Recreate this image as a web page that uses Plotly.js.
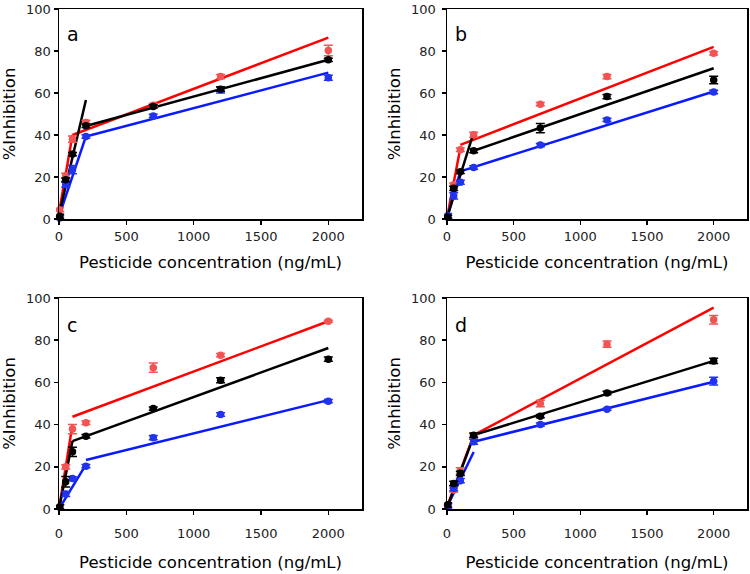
<!DOCTYPE html>
<html>
<head>
<meta charset="utf-8">
<script src="https://cdn.plot.ly/plotly-3.0.1.min.js"></script>
<style>html,body{margin:0;padding:0;background:#fff}#chart{width:750px;height:574px}</style>
</head>
<body>
<div id="chart"></div>
<script>
// Concentrations (ng/mL)
const conc = [5, 50, 100, 200, 700, 1200, 2000];
const panelLabels = ["a", "b", "c", "d"];
const xTicks = [0, 500, 1000, 1500, 2000];
const yTicks = [0, 20, 40, 60, 80, 100];

// Panel a
const aRed   = [4.4, 20.6, 38, 46, 54.2, 67.8, 80.2];
const aBlack = [1.3, 18.7, 30.9, 44.4, 53.6, 61.8, 75.8];
const aBlue  = [0.5, 16.3, 23.5, 39.3, 49.1, 61.5, 67.3];
const aRedErr   = [1, 1.2, 1.5, 1, 0.8, 1, 2.5];
const aBlackErr = [1, 0.8, 0.8, 0.8, 0.8, 1, 0.8];
const aBlueErr  = [1, 1.2, 2, 0.8, 0.8, 1.5, 1.2];
// Panel b
const bRed   = [1, 16.3, 33, 40.1, 54.7, 67.8, 78.9];
const bBlack = [1, 14.6, 22.5, 32.5, 43.3, 58.3, 66.2];
const bBlue  = [1.6, 11, 17.5, 24.5, 35.2, 47.2, 60.5];
const bRedErr   = [0.8, 0.8, 0.8, 1.2, 0.8, 1, 0.8];
const bBlackErr = [0.8, 1, 0.8, 1, 2.2, 1, 1.8];
const bBlueErr  = [1, 1.5, 1, 0.8, 0.8, 0.8, 0.8];
// Panel c
const cRed   = [1, 20, 37.9, 40.9, 67, 72.9, 89];
const cBlack = [1, 12.9, 27.1, 34.5, 47.6, 61, 71];
const cBlue  = [1, 7.1, 14.5, 20.3, 33.8, 44.8, 51.1];
const cRedErr   = [1, 1, 2.2, 0.8, 2.2, 0.8, 0.5];
const cBlackErr = [1, 2.5, 2.2, 0.8, 0.8, 1.2, 1];
const cBlueErr  = [1, 1.2, 0.8, 0.8, 1, 0.8, 0.8];
// Panel d
const dRed   = [1.6, 9, 18, 34.7, 50, 78.1, 89.7];
const dBlack = [2, 12.1, 16.9, 35, 44, 55, 70.2];
const dBlue  = [1.5, 9.8, 13.4, 31.9, 40, 47.3, 60.6];
const dRedErr   = [1, 1, 1.5, 1, 1.5, 1.5, 2];
const dBlackErr = [1, 1, 1, 1, 0.8, 0.8, 1.2];
const dBlueErr  = [1, 1.2, 1, 1.2, 0.8, 0.5, 1.8];

// Fitted segments: [x0, x1] and [y0, y1] for low and high concentration ranges
const aRedLoX = [0, 100],  aRedLoY = [3, 40],    aRedHiX = [100, 2000], aRedHiY = [40, 86.4];
const aBlackLoX = [0, 200], aBlackLoY = [2, 56.7], aBlackHiX = [200, 2000], aBlackHiY = [44.3, 75.8];
const aBlueLoX = [0, 200], aBlueLoY = [1.3, 39.3], aBlueHiX = [200, 2000], aBlueHiY = [39.3, 69.7];

const bRedLoX = [0, 100],  bRedLoY = [0.5, 33.8], bRedHiX = [100, 2000], bRedHiY = [35.3, 82];
const bBlackLoX = [0, 200], bBlackLoY = [0.5, 41.2], bBlackHiX = [200, 2000], bBlackHiY = [32.5, 71.8];
const bBlueLoX = [0, 100], bBlueLoY = [0.5, 22.7], bBlueHiX = [100, 2000], bBlueHiY = [22.7, 60.7];

const cRedLoX = [0, 100],  cRedLoY = [0, 40],     cRedHiX = [100, 2000], cRedHiY = [43.7, 89];
const cBlackLoX = [0, 100], cBlackLoY = [0, 32.2], cBlackHiX = [100, 2000], cBlackHiY = [32.2, 76.3];
const cBlueLoX = [0, 200], cBlueLoY = [0, 21],    cBlueHiX = [200, 2000], cBlueHiY = [23.2, 51.6];

const dRedLoX = [0, 200],  dRedLoY = [1, 35],     dRedHiX = [200, 2000], dRedHiY = [35, 95.4];
const dBlackLoX = [0, 200], dBlackLoY = [0.5, 34.5], dBlackHiX = [200, 2000], dBlackHiY = [35, 70.2];
const dBlueLoX = [0, 200], dBlueLoY = [1, 27],    dBlueHiX = [200, 2000], dBlueHiY = [31.9, 60.3];

const RED = "#ff0000", REDM = "#f25454", BLACK = "#000000", BLUE = "#0a1aff", BLUEM = "#2233ee";

const panels = [
  {pts: [[aRed, aRedErr, RED, REDM], [aBlue, aBlueErr, BLUE, BLUEM], [aBlack, aBlackErr, BLACK, BLACK]],
   fits: [[aRedLoX, aRedLoY, RED], [aRedHiX, aRedHiY, RED], [aBlueLoX, aBlueLoY, BLUE], [aBlueHiX, aBlueHiY, BLUE], [aBlackLoX, aBlackLoY, BLACK], [aBlackHiX, aBlackHiY, BLACK]]},
  {pts: [[bRed, bRedErr, RED, REDM], [bBlue, bBlueErr, BLUE, BLUEM], [bBlack, bBlackErr, BLACK, BLACK]],
   fits: [[bRedLoX, bRedLoY, RED], [bRedHiX, bRedHiY, RED], [bBlueLoX, bBlueLoY, BLUE], [bBlueHiX, bBlueHiY, BLUE], [bBlackLoX, bBlackLoY, BLACK], [bBlackHiX, bBlackHiY, BLACK]]},
  {pts: [[cRed, cRedErr, RED, REDM], [cBlue, cBlueErr, BLUE, BLUEM], [cBlack, cBlackErr, BLACK, BLACK]],
   fits: [[cRedLoX, cRedLoY, RED], [cRedHiX, cRedHiY, RED], [cBlueLoX, cBlueLoY, BLUE], [cBlueHiX, cBlueHiY, BLUE], [cBlackLoX, cBlackLoY, BLACK], [cBlackHiX, cBlackHiY, BLACK]]},
  {pts: [[dRed, dRedErr, RED, REDM], [dBlue, dBlueErr, BLUE, BLUEM], [dBlack, dBlackErr, BLACK, BLACK]],
   fits: [[dRedLoX, dRedLoY, RED], [dRedHiX, dRedHiY, RED], [dBlueLoX, dBlueLoY, BLUE], [dBlueHiX, dBlueHiY, BLUE], [dBlackLoX, dBlackLoY, BLACK], [dBlackHiX, dBlackHiY, BLACK]]}
];

const W = 750, H = 574;
const xDom = [[59 / W, 362 / W], [447 / W, 747 / W], [59 / W, 362 / W], [447 / W, 747 / W]];
const yDom = [[(H - 219) / H, (H - 9) / H], [(H - 219) / H, (H - 9) / H], [(H - 509) / H, (H - 298) / H], [(H - 509) / H, (H - 298) / H]];
const labelY = [0.88, 0.88, 0.87, 0.87];

const FONT = "DejaVu Sans, Verdana, sans-serif";
const traces = [];
const layout = {
  width: W, height: H, showlegend: false,
  margin: {l: 0, r: 0, t: 0, b: 0},
  paper_bgcolor: "#fff", plot_bgcolor: "#fff",
  font: {family: FONT, color: "#000"},
  annotations: []
};

panels.forEach((p, i) => {
  const n = i + 1;
  const xa = n === 1 ? "x" : "x" + n, ya = n === 1 ? "y" : "y" + n;
  p.fits.forEach(f => {
    traces.push({x: f[0], y: f[1], xaxis: xa, yaxis: ya, type: "scatter", mode: "lines",
      line: {color: f[2], width: 2.5}, hoverinfo: "skip", cliponaxis: false});
  });
  p.pts.forEach(s => {
    traces.push({x: conc, y: s[0], xaxis: xa, yaxis: ya, type: "scatter", mode: "markers",
      marker: {color: s[3], size: 7.5}, cliponaxis: false,
      error_y: {type: "data", array: s[1], visible: true, color: s[3], thickness: 1.5, width: 4.5}});
  });
  const lower = i >= 2;
  layout["xaxis" + (n === 1 ? "" : n)] = {
    domain: xDom[i], anchor: ya, range: [0, 2250], tickvals: xTicks, ticktext: xTicks.map(String),
    showgrid: false, zeroline: false, showline: true, linecolor: "#000", linewidth: 1.5, mirror: true,
    ticks: "outside", ticklen: 4, tickwidth: 1.5, tickcolor: "#000",
    ticklabelstandoff: lower ? 8 : 1,
    tickfont: {size: 13, color: "#222", family: FONT},
    title: {text: "Pesticide concentration (ng/mL)", font: {size: 16.5, color: "#000", family: FONT}, standoff: lower ? 16 : 13}
  };
  layout["yaxis" + (n === 1 ? "" : n)] = {
    domain: yDom[i], anchor: xa, range: [0, 100], tickvals: yTicks, ticktext: yTicks.map(String),
    showgrid: false, zeroline: false, showline: true, linecolor: "#000", linewidth: 1.5, mirror: true,
    ticks: "outside", ticklen: 4, tickwidth: 1.5, tickcolor: "#000",
    ticklabelstandoff: i % 2 === 1 ? 3 : 0,
    tickfont: {size: 13, color: "#222", family: FONT},
    title: {text: "%Inhibition", font: {size: 16.5, color: "#000", family: FONT}, standoff: 6}
  };
  layout.annotations.push({
    text: panelLabels[i], xref: xa + " domain", yref: ya + " domain", x: 0.02, y: labelY[i],
    xanchor: "left", yanchor: "middle", showarrow: false, font: {size: 19, color: "#000", family: FONT}
  });
});

Plotly.newPlot("chart", traces, layout, {displayModeBar: false, staticPlot: true});
</script>
</body>
</html>
